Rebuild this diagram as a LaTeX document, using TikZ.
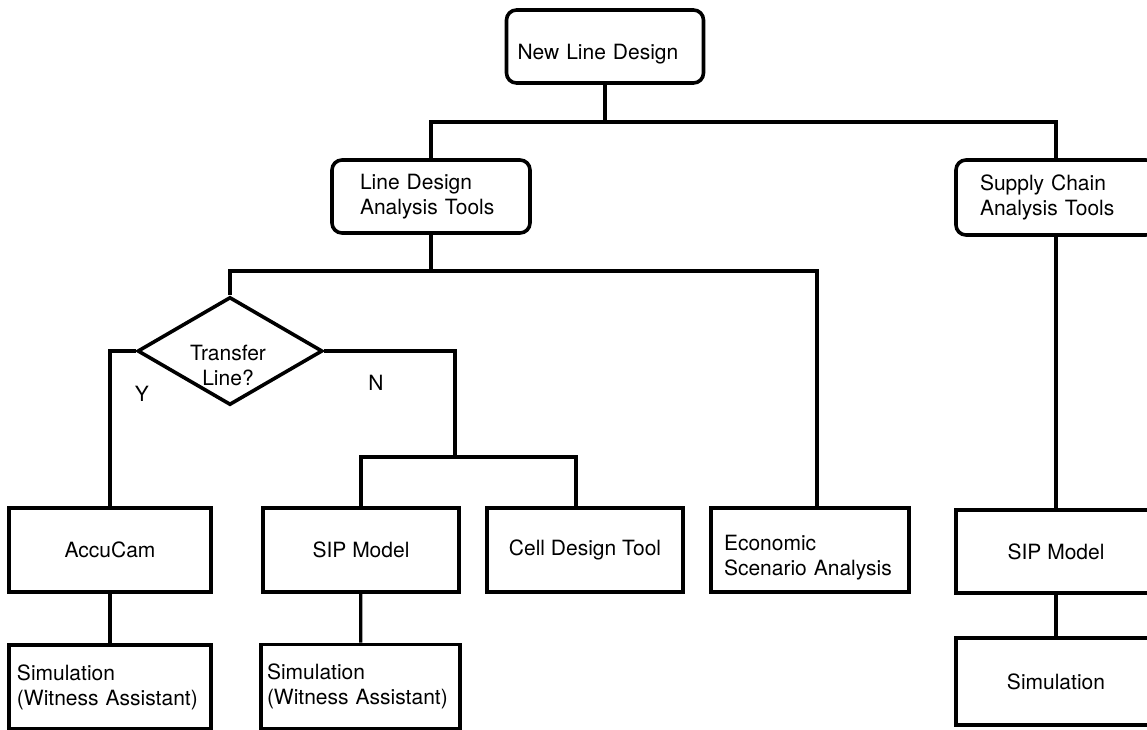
\documentclass[tikz,border=0pt]{standalone}
\usepackage{fontspec}
\setmainfont{TeX Gyre Heros}
\usetikzlibrary{shapes}

\begin{document}
\begin{tikzpicture}[x=0.5pt, y=-0.5pt, font=\fontsize{10.5}{12.5}\selectfont,
        box/.style={draw, line width=1.8pt, inner ysep=0pt},
        rbox/.style={box, rounded corners=5pt},
        dec/.style={draw, diamond, line width=1.8pt, aspect=1.7, inner sep=0pt, minimum width=92.5pt, minimum height=54pt},
        conn/.style={line width=1.6pt}]
        \useasboundingbox (0,0) rectangle (1147,729);
        \clip (0,0) rectangle (1147,729);

        \node [rbox, minimum height=36.5pt, text width=87.5pt, inner xsep=5.5pt, align=left] (top) at (605,46.5) {\raisebox{-4pt}[\height][\depth]{New Line Design}};
        \node [rbox, minimum height=36.5pt, text width=71pt, inner xsep=14pt, align=left] (lda) at (431,196.5) {Line Design\\Analysis Tools};
        \node [rbox, minimum height=37.5pt, text width=76pt, inner xsep=12pt, align=left] (sca) at (1056,197.5) {Supply Chain\\Analysis Tools};

        \node [dec] (trans) at (230,351) {};
        \node [align=center] (transtext) at (228,365) {Transfer\\Line?};

        \node [box, minimum width=101pt, minimum height=42pt] (accu) at (110,550) {AccuCam};
        \node [box, minimum width=98pt, minimum height=42pt] (sipl) at (361,550) {SIP Model};
        \node [box, minimum width=98pt, minimum height=42pt] (cell) at (585,550) {Cell Design Tool};
        \node [box, minimum height=42pt, text width=86pt, inner xsep=6.5pt, align=left] (econ) at (810,550) {\raisebox{-4pt}[\height][\depth]{\begin{tabular}{@{}l@{}}Economic\\Scenario Analysis\end{tabular}}};
        \node [box, minimum width=100pt, minimum height=41.5pt] (sipr) at (1056,551.5) {SIP Model};

        \node [box, minimum height=42pt, text width=93pt, inner xsep=4pt, align=left] (simy) at (110,687) {Simulation\\(Witness Assistant)};
        \node [box, minimum height=42pt, text width=93.5pt, inner xsep=3pt, align=left] (simw) at (360.5,686.5) {Simulation\\(Witness Assistant)};
        \node [box, minimum width=100pt, minimum height=43.5pt] (simr) at (1056,681.5) {Simulation};

        \node (lbly) at (142,394) {Y};
        \node (lbln) at (376,383) {N};

        \coordinate (j1) at (605,122);
        \coordinate (j2) at (431,271);
        \coordinate (j3) at (455,457);

        \draw [conn] (top) -- (j1);
        \draw [conn] (lda) |- (j1) -| (sca);
        \draw [conn] (lda) -- (j2);
        \draw [conn] (trans) |- (j2) -| ([xshift=3.5pt]econ.north);
        \draw [conn] (trans.west) -| (accu);
        \draw [conn] (trans.east) -| (j3);
        \draw [conn] (sipl) |- (j3) -| ([xshift=-4.5pt]cell.north);
        \draw [conn] (sca) -- (sipr);
        \draw [conn] (accu) -- (simy);
        \draw [conn] (sipl) -- (simw);
        \draw [conn] (sipr) -- (simr);
    \end{tikzpicture}
\end{document}
